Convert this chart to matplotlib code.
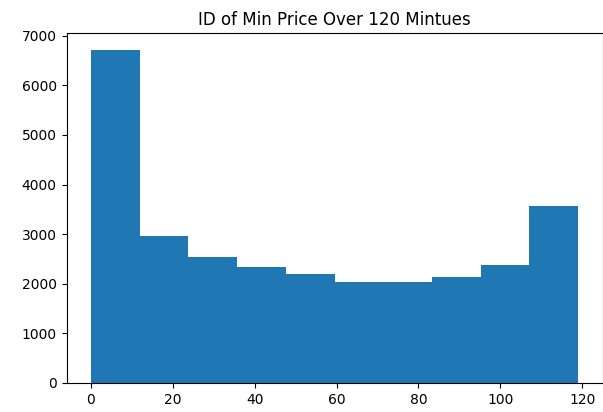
import numpy as np
import matplotlib.pyplot as plt

# bin edges and counts
edges = np.linspace(0, 119, 11)
counts = [6720, 2955, 2535, 2340, 2205, 2045, 2040, 2135, 2370, 3575]

centers = (edges[:-1] + edges[1:]) / 2

fig = plt.figure(figsize=(6.03, 4.12), dpi=100)
ax = fig.add_axes([66.5/603, 29/412, 536/603, 350/412])
ax.hist(centers, bins=edges, weights=counts)
ax.set_title('ID of Min Price Over 120 Mintues')

fig.savefig('out.png', dpi=100)
